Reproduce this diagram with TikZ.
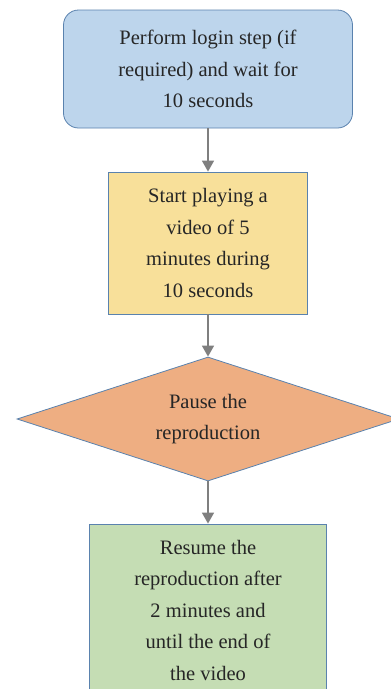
\documentclass[tikz,border=0pt]{standalone}
\usepackage{fontspec}
\setmainfont{Liberation Serif}
\usetikzlibrary{shapes.geometric,arrows.meta}
\definecolor{loginblue}{HTML}{BDD5EC}
\definecolor{playyellow}{HTML}{F8E09A}
\definecolor{pauseorange}{HTML}{EEAE82}
\definecolor{resumegreen}{HTML}{C5DDB4}
\definecolor{edgeblue}{HTML}{5A82AE}
\definecolor{arrowgray}{HTML}{7F7F7F}
\definecolor{txtgray}{HTML}{262626}
\begin{document}
\begin{tikzpicture}[x=1pt,y=-1pt,
    box/.style={draw=edgeblue,line width=0.8pt,inner sep=0pt,align=center,text=txtgray,
      font=\fontsize{20.5}{31.5}\selectfont},
    flow/.style={draw=arrowgray,line width=1.4pt,-{Triangle[width=12pt,length=11pt]}}]
  \useasboundingbox (0,0) rectangle (391,689);
  \clip (0,0) rectangle (391,689);
  % steps
  \node[box,fill=loginblue,rounded corners=15pt,minimum width=289pt,minimum height=118pt]
    (login) at (208,69) {Perform login step (if\\ required) and wait for\\ 10 seconds};
  \node[box,fill=playyellow,minimum width=199pt,minimum height=142pt]
    (play) at (208,243) {Start playing a\\ video of 5\\ minutes during\\ 10 seconds};
  \node[box,diamond,fill=pauseorange,aspect=3.08,minimum width=382pt,minimum height=124pt]
    (pause) at (208,419) {Pause the\\ reproduction};
  \node[box,fill=resumegreen,minimum width=237pt,minimum height=172pt]
    (resume) at (208,610) {Resume the\\ reproduction after\\ 2 minutes and\\ until the end of\\ the video};
  % arrows
  \draw[flow] (login) -- (play);
  \draw[flow] (play) -- (pause);
  \draw[flow] (pause) -- (resume);
\end{tikzpicture}
\end{document}
